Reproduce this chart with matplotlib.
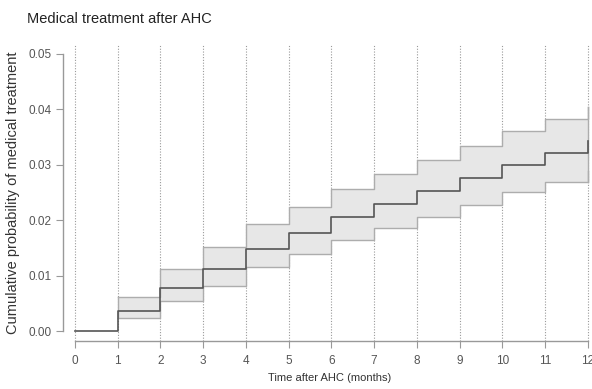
import matplotlib
matplotlib.use("Agg")
import matplotlib.pyplot as plt
import numpy as np

plt.rcParams['font.family'] = ['Liberation Sans', 'DejaVu Sans']

# step values for months 0..11, last entry = value reached at month 12
months = [0, 1, 2, 3, 4, 5, 6, 7, 8, 9, 10, 11, 12]
estimate = [0.0, 0.0037, 0.0078, 0.0111, 0.0148, 0.0177, 0.0206, 0.0230, 0.0253, 0.0276, 0.0300, 0.0321, 0.0342]
lower = [0.0, 0.0023, 0.0054, 0.0081, 0.0116, 0.0139, 0.0164, 0.0186, 0.0206, 0.0228, 0.0250, 0.0268, 0.0289]
upper = [0.0, 0.0062, 0.0112, 0.0152, 0.0193, 0.0224, 0.0256, 0.0284, 0.0308, 0.0333, 0.0360, 0.0382, 0.0405]
yticks = [0.00, 0.01, 0.02, 0.03, 0.04, 0.05]

fig = plt.figure(figsize=(5.92, 3.89), dpi=100)
ax = fig.add_axes([0.1064, 0.1234, 0.8902, 0.7609])

x = np.array(months, dtype=float)
lo = np.array(lower)
hi = np.array(upper)
est = np.array(estimate)

# dotted month grid
for m in months:
    ax.axvline(m, color='#9a9a9a', lw=0.8, ls=(0, (1, 1.5)), zorder=0)

# confidence band (steps from month 1)
ax.fill_between(x[1:], lo[1:], hi[1:], step='post', color='#e7e7e7', zorder=1, lw=0)
ax.step(x[1:], lo[1:], where='post', color='#adadad', lw=1.0, zorder=2)
ax.step(x[1:], hi[1:], where='post', color='#adadad', lw=1.0, zorder=2)
ax.plot([x[1], x[1]], [lo[1], hi[1]], color='#adadad', lw=1.0, zorder=2)
ax.plot([x[-1], x[-1]], [lo[-2], hi[-1]], color='#adadad', lw=1.0, zorder=2)

ax.step(x, est, where='post', color='#555555', lw=1.2, zorder=3)

ax.set_xlim(-0.28, 12.05)
ax.set_ylim(-0.0018, 0.0516)
ax.set_xticks(months)
ax.set_yticks(yticks)
ax.set_yticklabels(['%.2f' % v for v in yticks])

for s in ['top', 'right']:
    ax.spines[s].set_visible(False)
ax.spines['left'].set_bounds(0, 0.05)
ax.spines['bottom'].set_bounds(0, 12)
for s in ['left', 'bottom']:
    ax.spines[s].set_color('#999999')
    ax.spines[s].set_linewidth(1.0)
ax.tick_params(colors='#999999', labelcolor='#555555', labelsize=8.5, length=5)
ax.tick_params(axis='x', pad=5)

ax.set_ylabel('Cumulative probability of medical treatment', fontsize=10.5, color='#333333', labelpad=6)
fig.text(0.5575, 0.02, 'Time after AHC (months)', ha='center', fontsize=8, color='#333333')
fig.text(0.046, 0.94, 'Medical treatment after AHC', ha='left', fontsize=10.5, color='#222222')

fig.savefig('out.png', dpi=100)
